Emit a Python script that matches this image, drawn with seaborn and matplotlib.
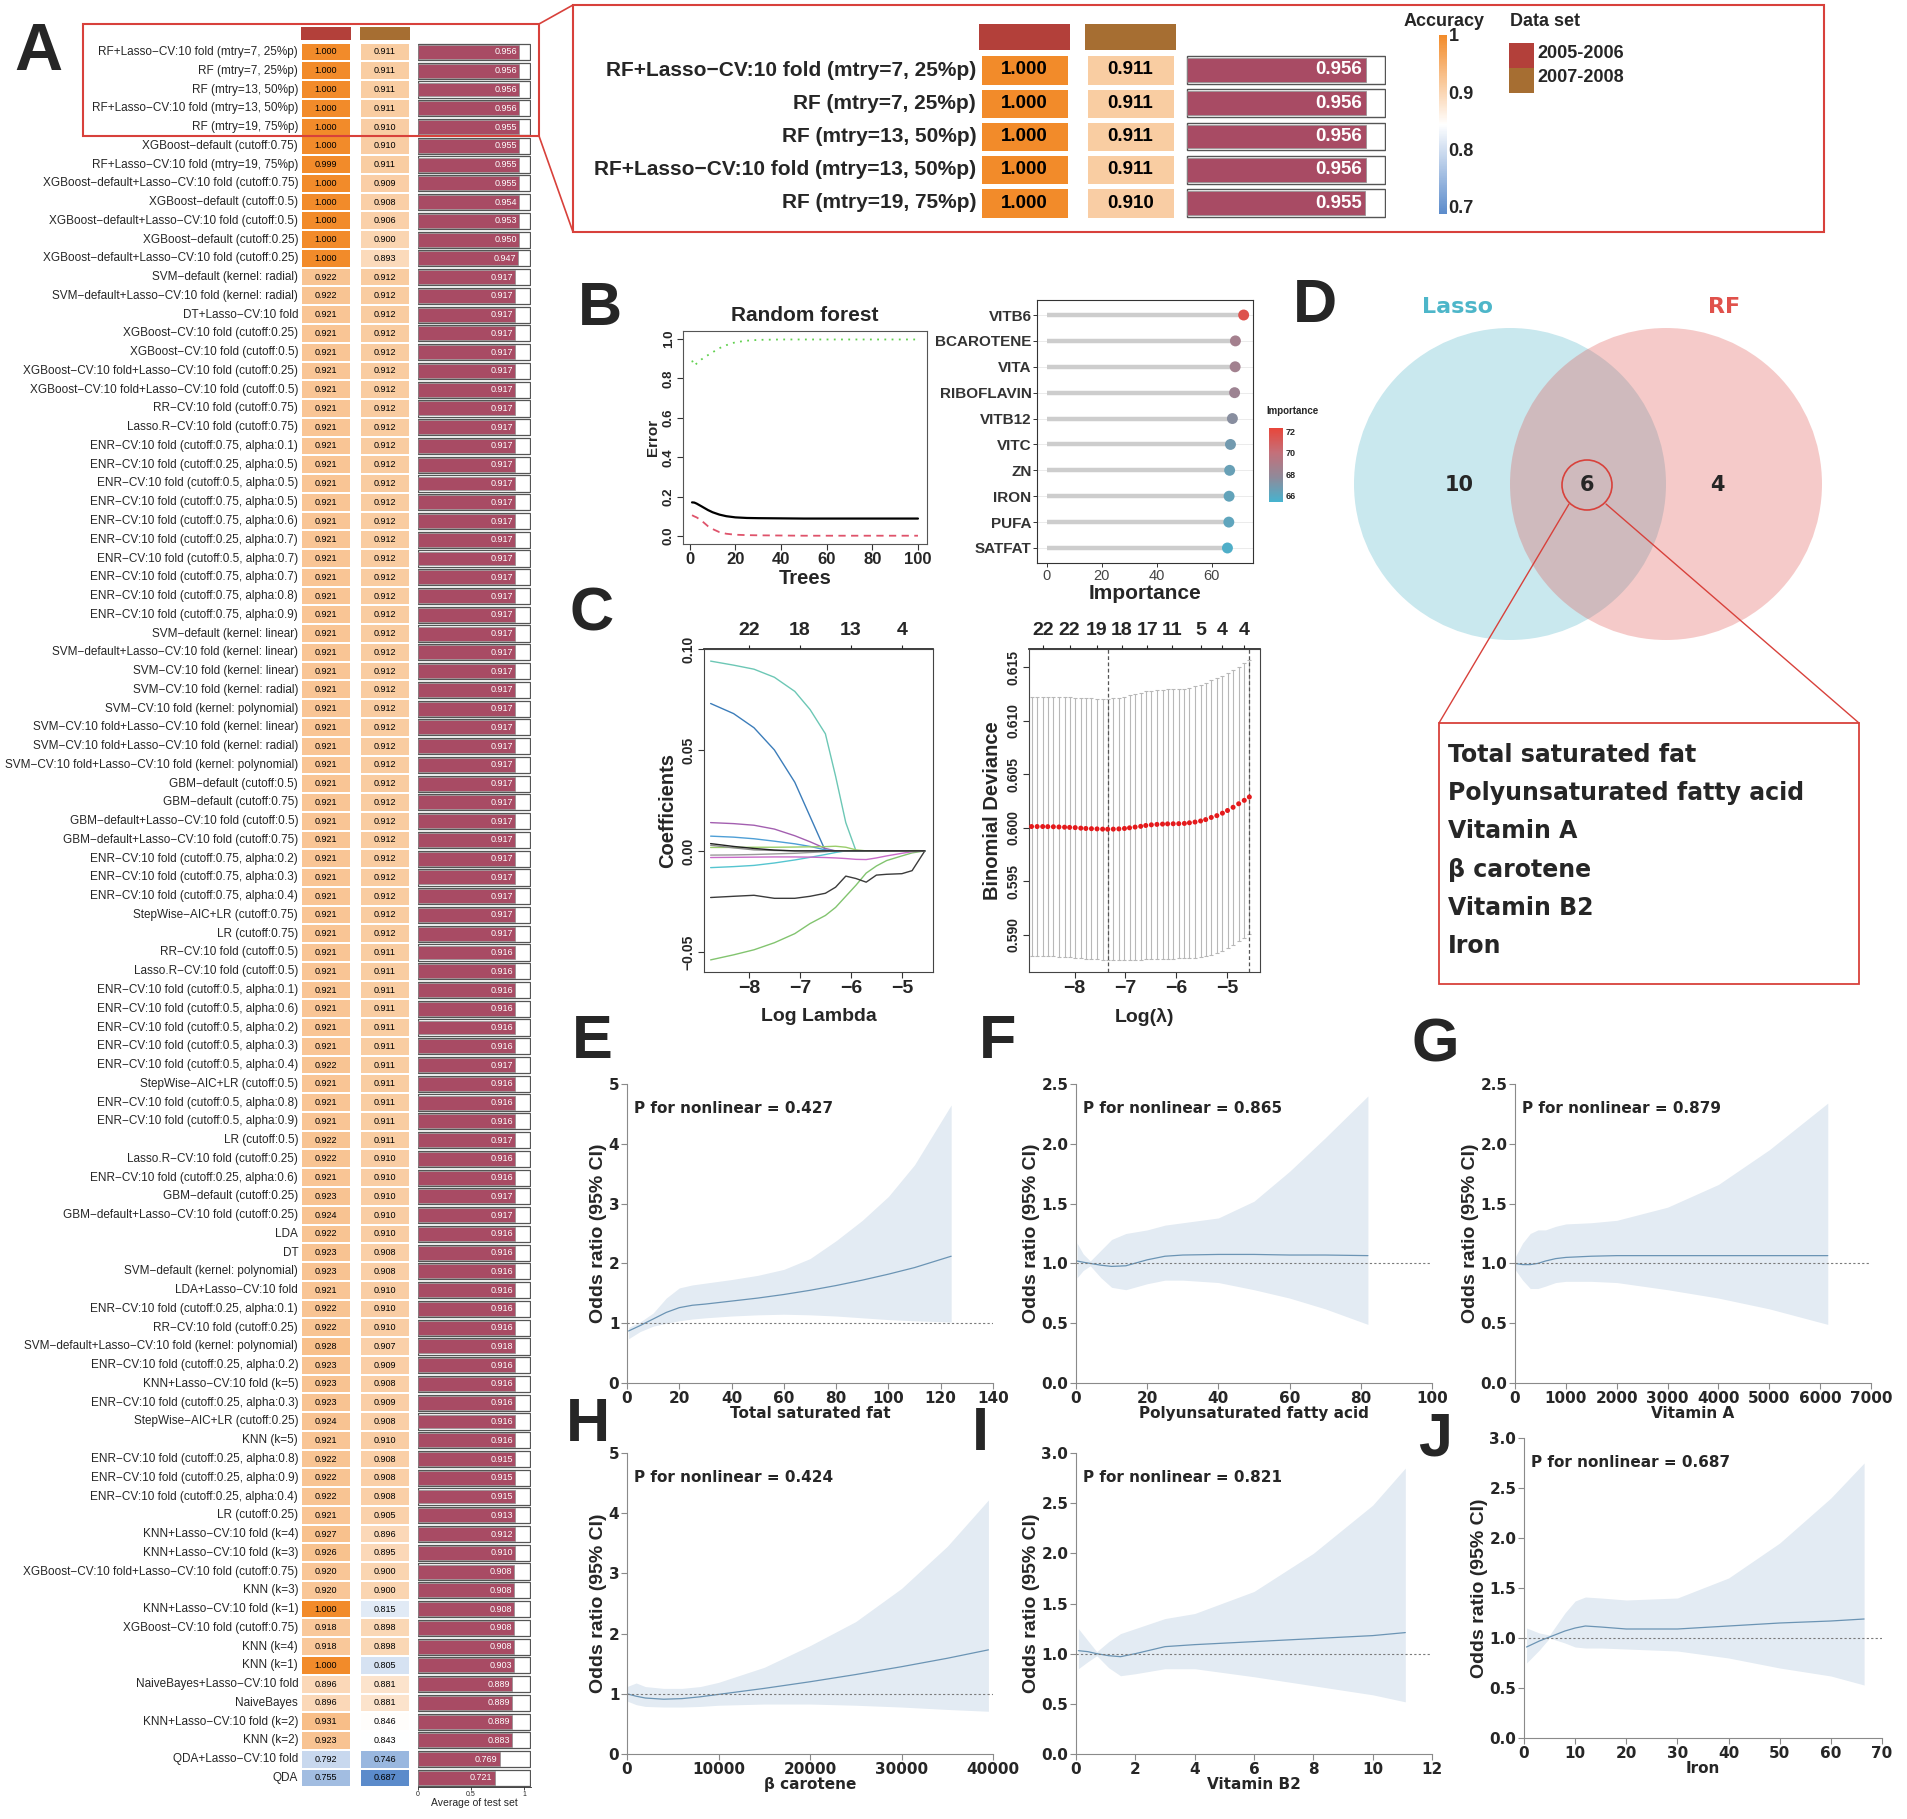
import numpy as np
import pandas as pd
import matplotlib
matplotlib.use("Agg")
import matplotlib.pyplot as plt
import seaborn as sns
from matplotlib.colors import LinearSegmentedColormap, Normalize
from matplotlib.patches import Rectangle, Circle
from matplotlib.cm import ScalarMappable

W, H = 1907, 1819

# ---------------- panel A: model accuracies ----------------
models = [
    "RF+Lasso-CV:10 fold (mtry=7, 25%p)", "RF (mtry=7, 25%p)", "RF (mtry=13, 50%p)",
    "RF+Lasso-CV:10 fold (mtry=13, 50%p)", "RF (mtry=19, 75%p)", "XGBoost-default (cutoff:0.75)",
    "RF+Lasso-CV:10 fold (mtry=19, 75%p)", "XGBoost-default+Lasso-CV:10 fold (cutoff:0.75)",
    "XGBoost-default (cutoff:0.5)", "XGBoost-default+Lasso-CV:10 fold (cutoff:0.5)",
    "XGBoost-default (cutoff:0.25)", "XGBoost-default+Lasso-CV:10 fold (cutoff:0.25)",
    "SVM-default (kernel: radial)", "SVM-default+Lasso-CV:10 fold (kernel: radial)",
    "DT+Lasso-CV:10 fold", "XGBoost-CV:10 fold (cutoff:0.25)", "XGBoost-CV:10 fold (cutoff:0.5)",
    "XGBoost-CV:10 fold+Lasso-CV:10 fold (cutoff:0.25)", "XGBoost-CV:10 fold+Lasso-CV:10 fold (cutoff:0.5)",
    "RR-CV:10 fold (cutoff:0.75)", "Lasso.R-CV:10 fold (cutoff:0.75)",
    "ENR-CV:10 fold (cutoff:0.75, alpha:0.1)", "ENR-CV:10 fold (cutoff:0.25, alpha:0.5)",
    "ENR-CV:10 fold (cutoff:0.5, alpha:0.5)", "ENR-CV:10 fold (cutoff:0.75, alpha:0.5)",
    "ENR-CV:10 fold (cutoff:0.75, alpha:0.6)", "ENR-CV:10 fold (cutoff:0.25, alpha:0.7)",
    "ENR-CV:10 fold (cutoff:0.5, alpha:0.7)", "ENR-CV:10 fold (cutoff:0.75, alpha:0.7)",
    "ENR-CV:10 fold (cutoff:0.75, alpha:0.8)", "ENR-CV:10 fold (cutoff:0.75, alpha:0.9)",
    "SVM-default (kernel: linear)", "SVM-default+Lasso-CV:10 fold (kernel: linear)",
    "SVM-CV:10 fold (kernel: linear)", "SVM-CV:10 fold (kernel: radial)",
    "SVM-CV:10 fold (kernel: polynomial)", "SVM-CV:10 fold+Lasso-CV:10 fold (kernel: linear)",
    "SVM-CV:10 fold+Lasso-CV:10 fold (kernel: radial)",
    "SVM-CV:10 fold+Lasso-CV:10 fold (kernel: polynomial)",
    "GBM-default (cutoff:0.5)", "GBM-default (cutoff:0.75)",
    "GBM-default+Lasso-CV:10 fold (cutoff:0.5)", "GBM-default+Lasso-CV:10 fold (cutoff:0.75)",
    "ENR-CV:10 fold (cutoff:0.75, alpha:0.2)", "ENR-CV:10 fold (cutoff:0.75, alpha:0.3)",
    "ENR-CV:10 fold (cutoff:0.75, alpha:0.4)", "StepWise-AIC+LR (cutoff:0.75)", "LR (cutoff:0.75)",
    "RR-CV:10 fold (cutoff:0.5)", "Lasso.R-CV:10 fold (cutoff:0.5)",
    "ENR-CV:10 fold (cutoff:0.5, alpha:0.1)", "ENR-CV:10 fold (cutoff:0.5, alpha:0.6)",
    "ENR-CV:10 fold (cutoff:0.5, alpha:0.2)", "ENR-CV:10 fold (cutoff:0.5, alpha:0.3)",
    "ENR-CV:10 fold (cutoff:0.5, alpha:0.4)", "StepWise-AIC+LR (cutoff:0.5)",
    "ENR-CV:10 fold (cutoff:0.5, alpha:0.8)", "ENR-CV:10 fold (cutoff:0.5, alpha:0.9)",
    "LR (cutoff:0.5)", "Lasso.R-CV:10 fold (cutoff:0.25)", "ENR-CV:10 fold (cutoff:0.25, alpha:0.6)",
    "GBM-default (cutoff:0.25)", "GBM-default+Lasso-CV:10 fold (cutoff:0.25)", "LDA", "DT",
    "SVM-default (kernel: polynomial)", "LDA+Lasso-CV:10 fold",
    "ENR-CV:10 fold (cutoff:0.25, alpha:0.1)", "RR-CV:10 fold (cutoff:0.25)",
    "SVM-default+Lasso-CV:10 fold (kernel: polynomial)", "ENR-CV:10 fold (cutoff:0.25, alpha:0.2)",
    "KNN+Lasso-CV:10 fold (k=5)", "ENR-CV:10 fold (cutoff:0.25, alpha:0.3)",
    "StepWise-AIC+LR (cutoff:0.25)", "KNN (k=5)", "ENR-CV:10 fold (cutoff:0.25, alpha:0.8)",
    "ENR-CV:10 fold (cutoff:0.25, alpha:0.9)", "ENR-CV:10 fold (cutoff:0.25, alpha:0.4)",
    "LR (cutoff:0.25)", "KNN+Lasso-CV:10 fold (k=4)", "KNN+Lasso-CV:10 fold (k=3)",
    "XGBoost-CV:10 fold+Lasso-CV:10 fold (cutoff:0.75)", "KNN (k=3)", "KNN+Lasso-CV:10 fold (k=1)",
    "XGBoost-CV:10 fold (cutoff:0.75)", "KNN (k=4)", "KNN (k=1)", "NaiveBayes+Lasso-CV:10 fold",
    "NaiveBayes", "KNN+Lasso-CV:10 fold (k=2)", "KNN (k=2)", "QDA+Lasso-CV:10 fold", "QDA",
]

acc_2005 = [
    1.000, 1.000, 1.000, 1.000, 1.000, 1.000, 0.999, 1.000, 1.000, 1.000,
    1.000, 1.000, 0.922, 0.922, 0.921, 0.921, 0.921, 0.921, 0.921, 0.921,
    0.921, 0.921, 0.921, 0.921, 0.921, 0.921, 0.921, 0.921, 0.921, 0.921,
    0.921, 0.921, 0.921, 0.921, 0.921, 0.921, 0.921, 0.921, 0.921, 0.921,
    0.921, 0.921, 0.921, 0.921, 0.921, 0.921, 0.921, 0.921, 0.921, 0.921,
    0.921, 0.921, 0.921, 0.921, 0.922, 0.921, 0.921, 0.921, 0.922, 0.922,
    0.921, 0.923, 0.924, 0.922, 0.923, 0.923, 0.921, 0.922, 0.922, 0.928,
    0.923, 0.923, 0.923, 0.924, 0.921, 0.922, 0.922, 0.922, 0.921, 0.927,
    0.926, 0.920, 0.920, 1.000, 0.918, 0.918, 1.000, 0.896, 0.896, 0.931,
    0.923, 0.792, 0.755,
]

acc_2007 = [
    0.911, 0.911, 0.911, 0.911, 0.910, 0.910, 0.911, 0.909, 0.908, 0.906,
    0.900, 0.893, 0.912, 0.912, 0.912, 0.912, 0.912, 0.912, 0.912, 0.912,
    0.912, 0.912, 0.912, 0.912, 0.912, 0.912, 0.912, 0.912, 0.912, 0.912,
    0.912, 0.912, 0.912, 0.912, 0.912, 0.912, 0.912, 0.912, 0.912, 0.912,
    0.912, 0.912, 0.912, 0.912, 0.912, 0.912, 0.912, 0.912, 0.911, 0.911,
    0.911, 0.911, 0.911, 0.911, 0.911, 0.911, 0.911, 0.911, 0.911, 0.910,
    0.910, 0.910, 0.910, 0.910, 0.908, 0.908, 0.910, 0.910, 0.910, 0.907,
    0.909, 0.908, 0.909, 0.908, 0.910, 0.908, 0.908, 0.908, 0.905, 0.896,
    0.895, 0.900, 0.900, 0.815, 0.898, 0.898, 0.805, 0.881, 0.881, 0.846,
    0.843, 0.746, 0.687,
]

acc_mean = [
    0.956, 0.956, 0.956, 0.956, 0.955, 0.955, 0.955, 0.955, 0.954, 0.953,
    0.950, 0.947, 0.917, 0.917, 0.917, 0.917, 0.917, 0.917, 0.917, 0.917,
    0.917, 0.917, 0.917, 0.917, 0.917, 0.917, 0.917, 0.917, 0.917, 0.917,
    0.917, 0.917, 0.917, 0.917, 0.917, 0.917, 0.917, 0.917, 0.917, 0.917,
    0.917, 0.917, 0.917, 0.917, 0.917, 0.917, 0.917, 0.917, 0.916, 0.916,
    0.916, 0.916, 0.916, 0.916, 0.917, 0.916, 0.916, 0.916, 0.917, 0.916,
    0.916, 0.917, 0.917, 0.916, 0.916, 0.916, 0.916, 0.916, 0.916, 0.918,
    0.916, 0.916, 0.916, 0.916, 0.916, 0.915, 0.915, 0.915, 0.913, 0.912,
    0.910, 0.908, 0.908, 0.908, 0.908, 0.908, 0.903, 0.889, 0.889, 0.889,
    0.883, 0.769, 0.721,
]

dataset_names = ["2005-2006", "2007-2008"]
top_n = 5

# ---------------- panel B: random forest ----------------
rf_trees = [1, 2, 3, 5, 8, 10, 13, 16, 20, 25, 30, 40, 50, 60, 70, 80, 90, 100]
rf_oob = [0.171, 0.170, 0.165, 0.152, 0.132, 0.121, 0.109, 0.101, 0.095, 0.092,
          0.091, 0.090, 0.089, 0.089, 0.089, 0.089, 0.089, 0.089]
rf_err_no = [0.106, 0.100, 0.095, 0.080, 0.050, 0.036, 0.020, 0.012, 0.007, 0.005,
             0.004, 0.003, 0.002, 0.002, 0.002, 0.002, 0.002, 0.002]
rf_err_yes = [0.890, 0.865, 0.875, 0.895, 0.918, 0.932, 0.953, 0.968, 0.983, 0.991,
              0.995, 0.997, 0.997, 0.997, 0.997, 0.997, 0.997, 0.997]

imp_vars = ["VITB6", "BCAROTENE", "VITA", "RIBOFLAVIN", "VITB12", "VITC", "ZN", "IRON", "PUFA", "SATFAT"]
imp_vals = [71.6, 68.6, 68.5, 68.3, 67.5, 66.8, 66.5, 66.3, 66.2, 65.7]

# ---------------- panel C: lasso ----------------
lasso_loglam = [-8.75, -8.3, -7.9, -7.5, -7.1, -6.8, -6.5, -6.3, -6.1, -5.9, -5.7, -5.5, -5.3, -5.0, -4.8, -4.55]
coef_vitb6 = [0.094, 0.092, 0.090, 0.086, 0.079, 0.070, 0.058, 0.037, 0.014, 0, 0, 0, 0, 0, 0, 0]
coef_vitb12 = [0.073, 0.068, 0.061, 0.050, 0.034, 0.017, 0.0, 0, 0, 0, 0, 0, 0, 0, 0, 0]
coef_zn = [0.014, 0.0135, 0.0127, 0.0108, 0.0075, 0.0045, 0.0012, 0, 0, 0, 0, 0, 0, 0, 0, 0]
coef_vitc = [0.0073, 0.0068, 0.0060, 0.0048, 0.0035, 0.0022, 0.0005, 0, 0, 0, 0, 0, 0, 0, 0, 0]
coef_satfat = [-0.054, -0.0515, -0.049, -0.0455, -0.041, -0.036, -0.032, -0.028, -0.0225, -0.017,
               -0.011, -0.0075, -0.0048, -0.0025, -0.001, 0]
coef_iron = [-0.0231, -0.0225, -0.022, -0.0235, -0.0235, -0.0225, -0.021, -0.018, -0.0125, -0.0137,
             -0.0155, -0.012, -0.0116, -0.0113, -0.0098, 0]
coef_pufa = [-0.0083, -0.0078, -0.0072, -0.006, -0.0045, -0.0032, -0.0018, -0.0008, 0, 0, 0, 0, 0, 0, 0, 0]
coef_vita = [-0.0033, -0.0032, -0.0031, -0.003, -0.003, -0.0031, -0.0033, -0.0035, -0.0038, -0.0042,
             -0.0043, -0.0035, -0.0025, -0.0012, -0.0004, 0]
coef_ribo = [0.0017, 0.0017, 0.0018, 0.0018, 0.0019, 0.002, 0.0021, 0.0023, 0.0018, 0.0005, 0, 0, 0, 0, 0, 0]
coef_other1 = [0.0028, 0.0015, 0.0005, 0.0002, 0, 0, 0, 0, 0, 0, 0, 0, 0, 0, 0, 0]
coef_other2 = [-0.0021, -0.002, -0.0018, -0.0015, -0.0012, -0.0008, -0.0004, 0, 0, 0, 0, 0, 0, 0, 0, 0]
coef_other3 = [0.0036, 0.0022, 0.0012, 0.0004, 0, 0, 0, 0, 0, 0, 0, 0, 0, 0, 0, 0]
lasso_top_df = ["22", "18", "13", "4"]

cv_loglam = [-8.85, -8.74, -8.63, -8.53, -8.42, -8.31, -8.20, -8.10, -7.99, -7.88,
             -7.78, -7.67, -7.56, -7.45, -7.35, -7.24, -7.13, -7.02, -6.92, -6.81,
             -6.70, -6.60, -6.49, -6.38, -6.27, -6.17, -6.06, -5.95, -5.84, -5.74,
             -5.63, -5.52, -5.42, -5.31, -5.20, -5.09, -4.99, -4.88, -4.77, -4.66, -4.56]
cv_dev = [0.60010, 0.60010, 0.60010, 0.60009, 0.60008, 0.60006, 0.60004, 0.60002, 0.60000, 0.59995,
          0.59992, 0.59990, 0.59988, 0.59986, 0.59985, 0.59986, 0.59988, 0.59992, 0.59998, 0.60005,
          0.60012, 0.60020, 0.60026, 0.60030, 0.60033, 0.60035, 0.60036, 0.60037, 0.60039, 0.60045,
          0.60052, 0.60062, 0.60075, 0.60095, 0.60112, 0.60135, 0.60160, 0.60190, 0.60223, 0.60255, 0.60286]
cv_se = [0.01212, 0.01212, 0.01212, 0.01213, 0.01213, 0.01214, 0.01214, 0.01215, 0.01216, 0.01217,
         0.01218, 0.01219, 0.01219, 0.01220, 0.01220, 0.01222, 0.01226, 0.01232, 0.01238, 0.01244,
         0.01249, 0.01253, 0.01255, 0.01257, 0.01258, 0.01259, 0.01260, 0.01260, 0.01261, 0.01263,
         0.01268, 0.01275, 0.01279, 0.01282, 0.01284, 0.01284, 0.01284, 0.01284, 0.01283, 0.01283, 0.01282]
cv_top_at = [-8.63, -8.10, -7.56, -7.07, -6.57, -6.08, -5.52, -5.09, -4.66]
cv_top_df = ["22", "22", "19", "18", "17", "11", "5", "4", "4"]
lam_min, lam_1se = -7.35, -4.56

# ---------------- panel D: venn ----------------
venn_sets = ["Lasso", "RF"]
venn_counts = [10, 6, 4]
shared_vars = ["Total saturated fat", "Polyunsaturated fatty acid", "Vitamin A",
               "\u03b2 carotene", "Vitamin B2", "Iron"]

# ---------------- panels E-J: restricted cubic splines ----------------
e_x = [0.6, 5, 10, 15, 20, 25, 30, 40, 50, 60, 70, 80, 90, 100, 110, 124]
e_or = [0.87, 0.96, 1.07, 1.18, 1.26, 1.30, 1.32, 1.37, 1.42, 1.48, 1.55, 1.63, 1.72, 1.82, 1.93, 2.12]
e_lo = [0.74, 0.86, 0.95, 1.00, 1.04, 1.07, 1.09, 1.12, 1.14, 1.15, 1.14, 1.12, 1.09, 1.06, 1.04, 1.02]
e_hi = [0.93, 1.02, 1.17, 1.42, 1.59, 1.64, 1.67, 1.73, 1.80, 1.90, 2.08, 2.38, 2.72, 3.12, 3.65, 4.65]

f_x = [0.3, 2, 4, 7, 10, 14, 20, 25, 30, 40, 50, 60, 70, 82]
f_or = [1.02, 1.01, 1.0, 0.985, 0.975, 0.98, 1.03, 1.06, 1.07, 1.075, 1.075, 1.07, 1.07, 1.065]
f_lo = [0.88, 0.94, 0.98, 0.88, 0.80, 0.78, 0.83, 0.86, 0.86, 0.84, 0.78, 0.71, 0.62, 0.49]
f_hi = [1.17, 1.08, 1.02, 1.11, 1.20, 1.25, 1.28, 1.32, 1.34, 1.38, 1.52, 1.77, 2.05, 2.40]

g_x = [0, 150, 300, 450, 600, 800, 1000, 1500, 2000, 3000, 4000, 5000, 6150]
g_or = [1.0, 0.99, 0.99, 1.0, 1.02, 1.04, 1.05, 1.06, 1.065, 1.065, 1.065, 1.065, 1.065]
g_lo = [0.95, 0.86, 0.79, 0.79, 0.81, 0.84, 0.85, 0.85, 0.84, 0.78, 0.71, 0.62, 0.49]
g_hi = [1.05, 1.17, 1.25, 1.28, 1.28, 1.31, 1.33, 1.34, 1.36, 1.47, 1.66, 1.95, 2.34]

h_x = [0, 1000, 2000, 4000, 6000, 8000, 10000, 15000, 20000, 25000, 30000, 35000, 39500]
h_or = [1.0, 0.96, 0.93, 0.91, 0.92, 0.95, 0.99, 1.09, 1.20, 1.32, 1.45, 1.59, 1.73]
h_lo = [0.88, 0.82, 0.79, 0.78, 0.78, 0.79, 0.81, 0.83, 0.83, 0.81, 0.78, 0.74, 0.71]
h_hi = [1.12, 1.18, 1.12, 1.09, 1.09, 1.12, 1.19, 1.44, 1.80, 2.20, 2.75, 3.45, 4.22]

i_x = [0.08, 0.4, 0.7, 1.1, 1.5, 2, 3, 4, 6, 8, 10, 11.1]
i_or = [1.03, 1.02, 1.0, 0.98, 0.97, 1.0, 1.07, 1.09, 1.12, 1.15, 1.18, 1.21]
i_lo = [0.85, 0.92, 0.98, 0.86, 0.78, 0.80, 0.85, 0.85, 0.77, 0.68, 0.59, 0.52]
i_hi = [1.25, 1.13, 1.02, 1.12, 1.20, 1.25, 1.35, 1.40, 1.62, 2.00, 2.48, 2.85]

j_x = [0.5, 3, 5, 8, 10, 12, 15, 20, 30, 40, 50, 60, 66.5]
j_or = [0.91, 0.97, 1.01, 1.07, 1.10, 1.12, 1.11, 1.09, 1.09, 1.12, 1.15, 1.17, 1.19]
j_lo = [0.75, 0.88, 1.0, 0.95, 0.91, 0.90, 0.90, 0.89, 0.87, 0.80, 0.70, 0.62, 0.53]
j_hi = [1.10, 1.05, 1.03, 1.25, 1.37, 1.41, 1.40, 1.38, 1.40, 1.60, 1.95, 2.40, 2.75]

p_nonlinear = ["0.427", "0.865", "0.879", "0.424", "0.821", "0.687"]

# ---------------- styling ----------------
sns.set_theme(style="ticks")
plt.rcParams["font.family"] = ["Liberation Sans", "DejaVu Sans"]
plt.rcParams["axes.unicode_minus"] = True

ACC_MIN, ACC_MAX = 0.687, 1.0
acc_cmap = LinearSegmentedColormap.from_list("acc", ["#5B8BCB", "#FFFFFF", "#F28B2A"])
imp_cmap = LinearSegmentedColormap.from_list("imp", ["#46B3CF", "#8F8A9A", "#C4707A", "#E8463A"])
IMP_MIN, IMP_MAX = 65.4, 72.3
set_colors = ["#B3403A", "#A66E32"]
bar_color = "#A84B64"
frame_red = "#D8413B"
BOX_W = 1.057
DJ = "DejaVu Sans"

fig = plt.figure(figsize=(W / 100, H / 100), dpi=100)


def box(x0, y0, x1, y1):
    return [x0 / W, 1 - y1 / H, (x1 - x0) / W, (y1 - y0) / H]


def minus(s):
    return s.replace("-", "\u2212")


def heat_column(ax, values, names, show_names, num_size, name_size, weight, gap):
    frame = pd.DataFrame({"acc": values}, index=names)
    sns.heatmap(frame, ax=ax, cmap=acc_cmap, vmin=ACC_MIN, vmax=ACC_MAX, cbar=False,
                annot=True, fmt=".3f",
                annot_kws={"size": num_size, "color": "black", "weight": weight},
                linewidths=gap, linecolor="white", xticklabels=False, yticklabels=show_names)
    ax.set_ylabel("")
    ax.tick_params(axis="y", length=0, pad=2)
    if show_names:
        ax.set_yticklabels([minus(n) for n in names], rotation=0,
                           fontsize=name_size, fontweight=weight)


def avg_bars(ax, values, names, txt_size, weight, box_h, bar_h, box_lw):
    n = len(values)
    sns.barplot(x=values, y=names, orient="h", color=bar_color, saturation=1, width=bar_h,
                edgecolor="#8f8f8f", linewidth=0.5, ax=ax, zorder=2)
    ax.barh(names, BOX_W, height=box_h, facecolor="white", edgecolor="#555555",
            linewidth=box_lw, zorder=1)
    for i, v in enumerate(values):
        ax.text(v - 0.018, i, f"{v:.3f}", ha="right", va="center", color="white",
                fontsize=txt_size, fontweight=weight, zorder=3)
    ax.set_xlim(-0.005, 1.065)
    ax.set_ylim(n - 0.5, -0.5)
    ax.set_yticks([])
    ax.set_ylabel("")


# ---- A: full list ----
row0, pitch = 52, 18.76
top_a = row0 - pitch / 2
bot_a = row0 + pitch * (len(models) - 1) + pitch / 2

ax = fig.add_axes(box(301, top_a, 351, bot_a))
heat_column(ax, acc_2005, models, True, 6.5, 8.5, "normal", 1.2)
ax = fig.add_axes(box(360, top_a, 410, bot_a))
heat_column(ax, acc_2007, models, False, 6.5, 8.5, "normal", 1.2)
ax = fig.add_axes(box(417.5, top_a, 531, bot_a))
avg_bars(ax, acc_mean, models, 6.5, "normal", 0.86, 0.74, 0.9)
sns.despine(ax=ax, left=True)
ax.set_xticks([0, 0.5, 1])
ax.set_xticklabels(["0", "0.5", "1"], fontsize=5)
ax.tick_params(axis="x", length=2, width=0.6, pad=1)
ax.spines["bottom"].set_linewidth(0.6)
ax.set_xlabel("Average of test set", fontsize=7.5, labelpad=0)

# ---- A: zoomed top rows ----
in0, in_pitch = 70, 33.25
in_top = in0 - in_pitch / 2
in_bot = in0 + in_pitch * (top_n - 1) + in_pitch / 2
ax = fig.add_axes(box(979, in_top, 1070, in_bot))
heat_column(ax, acc_2005[:top_n], models[:top_n], True, 13.5, 15, "bold", 2.5)
ax = fig.add_axes(box(1085, in_top, 1176, in_bot))
heat_column(ax, acc_2007[:top_n], models[:top_n], False, 13.5, 15, "bold", 2.5)
ax = fig.add_axes(box(1186, in_top, 1386, in_bot))
avg_bars(ax, acc_mean[:top_n], models[:top_n], 13.5, "bold", 0.84, 0.72, 1.0)
ax.axis("off")

cax = fig.add_axes(box(1439, 35, 1447, 214))
cb = fig.colorbar(ScalarMappable(Normalize(ACC_MIN, ACC_MAX), acc_cmap), cax=cax)
cb.outline.set_visible(False)
cb.set_ticks([0.7, 0.8, 0.9, 1.0])
cb.set_ticklabels(["0.7", "0.8", "0.9", "1"])
cax.tick_params(length=0, labelsize=13, pad=1)
for t in cax.get_yticklabels():
    t.set_fontweight("bold")

# ---- B: random forest error ----
ax = fig.add_axes(box(683, 331, 927, 544))
sns.lineplot(x=rf_trees, y=rf_oob, color="black", lw=1.6, ax=ax)
sns.lineplot(x=rf_trees, y=rf_err_no, color="#DF536B", lw=1.3, linestyle=(0, (4, 3)), ax=ax)
sns.lineplot(x=rf_trees, y=rf_err_yes, color="#61D04F", lw=1.3, linestyle=(0, (1, 3)), ax=ax)
ax.set_xlim(-2.96, 103.96)
ax.set_ylim(-0.04, 1.04)
ax.set_xticks([0, 20, 40, 60, 80, 100])
ax.set_xticklabels(["0", "20", "40", "60", "80", "100"], fontsize=12, fontweight="bold")
ax.set_yticks([0, 0.2, 0.4, 0.6, 0.8, 1.0])
ax.set_yticklabels(["0.0", "0.2", "0.4", "0.6", "0.8", "1.0"], fontsize=9.5,
                   fontweight="bold", rotation=90, va="center")
ax.tick_params(length=4, width=0.8, pad=2, color="#333333")
for s in ax.spines.values():
    s.set_linewidth(0.8)
    s.set_color("#555555")
ax.set_title("Random forest", fontsize=15, fontweight="bold", pad=7)
ax.set_ylabel("Error", fontsize=11, fontweight="bold", labelpad=2)
ax.set_xlabel("Trees", fontsize=14.5, fontweight="bold", labelpad=1)

# ---- B: importance lollipop ----
ax = fig.add_axes(box(1037, 300, 1253, 563))
ax.hlines(imp_vars, 0, imp_vals, color="#CDCDCD", lw=3.2, zorder=1)
sns.scatterplot(x=imp_vals, y=imp_vars, hue=imp_vals, palette=imp_cmap,
                hue_norm=(IMP_MIN, IMP_MAX), s=62, legend=False, edgecolor="none",
                ax=ax, zorder=3)
ax.set_ylim(9.58, -0.58)
ax.set_xlim(-3.6, 75)
ax.grid(axis="y", color="#EBEBEB", lw=0.7)
ax.set_axisbelow(True)
ax.set_xticks([0, 20, 40, 60])
ax.set_xticklabels(["0", "20", "40", "60"], fontsize=10.5, color="#444444")
ax.set_yticks(range(len(imp_vars)))
ax.set_yticklabels(imp_vars, fontsize=11, fontweight="bold", color="#333333")
ax.tick_params(length=3, width=0.7, pad=1, color="#333333")
for s in ax.spines.values():
    s.set_linewidth(0.8)
    s.set_color("#333333")
ax.set_xlabel("Importance", fontsize=15, fontweight="bold", labelpad=1)
ax.set_ylabel("")

cax = fig.add_axes(box(1269, 428, 1283, 502))
cb = fig.colorbar(ScalarMappable(Normalize(IMP_MIN, IMP_MAX), imp_cmap), cax=cax)
cb.outline.set_visible(False)
cb.set_ticks([66, 68, 70, 72])
cax.tick_params(length=2, color="white", direction="in", labelsize=6.5, pad=2)
for t in cax.get_yticklabels():
    t.set_fontweight("bold")

# ---- C: lasso coefficient paths ----
lasso_paths = [coef_vitb6, coef_vitb12, coef_zn, coef_vitc, coef_satfat, coef_iron, coef_pufa,
               coef_vita, coef_ribo, coef_other1, coef_other2, coef_other3]
path_colors = ["#6CC7B5", "#3C7DBA", "#A35FB0", "#4E9FD6", "#82C46F", "#3B3B3B", "#55C5D0",
               "#C86BC9", "#9ACD6A", "#8A8A8A", "#9A9A9A", "#222222"]
ax = fig.add_axes(box(704, 649, 933, 972))
for path, col in zip(lasso_paths, path_colors):
    sns.lineplot(x=lasso_loglam, y=path, color=col, lw=1.0, ax=ax)
ax.set_xlim(-8.88, -4.39)
ax.set_ylim(-0.06, 0.10)
ax.set_xticks([-8, -7, -6, -5])
ax.set_xticklabels([minus(s) for s in ["-8", "-7", "-6", "-5"]], fontsize=14, fontweight="bold")
ax.set_yticks([-0.05, 0, 0.05, 0.10])
ax.set_yticklabels([minus("-0.05"), "0.00", "0.05", "0.10"], fontsize=10, fontweight="bold",
                   rotation=90, va="center")
ax.tick_params(length=4, width=0.8, pad=2, color="#333333")
for s in ax.spines.values():
    s.set_linewidth(0.8)
    s.set_color("#444444")
ax.set_xlabel("Log Lambda", fontsize=14, fontweight="bold", labelpad=8)
ax.set_ylabel("Coefficients", fontsize=14.5, fontweight="bold", labelpad=3)
top = ax.secondary_xaxis("top")
top.set_xticks([-8, -7, -6, -5], labels=lasso_top_df)
top.tick_params(length=3, width=0.8, pad=4, labelsize=14)
for t in top.get_xticklabels():
    t.set_fontweight("bold")

# ---- C: cross-validation ----
ax = fig.add_axes(box(1029, 649, 1260, 972))
ax.errorbar(cv_loglam, cv_dev, yerr=cv_se, fmt="none", ecolor="#B8B8B8", elinewidth=0.8,
            capsize=1.3, capthick=0.8)
sns.scatterplot(x=cv_loglam, y=cv_dev, color="#E41A1C", s=13, edgecolor="none", ax=ax, zorder=3)
ax.axvline(lam_min, color="#555555", lw=0.9, linestyle=(0, (3, 2)))
ax.axvline(lam_1se, color="#555555", lw=0.9, linestyle=(0, (3, 2)))
ax.set_xlim(-8.9, -4.35)
ax.set_ylim(0.5865, 0.6167)
ax.set_xticks([-8, -7, -6, -5])
ax.set_xticklabels([minus(s) for s in ["-8", "-7", "-6", "-5"]], fontsize=14, fontweight="bold")
ax.set_yticks([0.590, 0.595, 0.600, 0.605, 0.610, 0.615])
ax.set_yticklabels(["0.590", "0.595", "0.600", "0.605", "0.610", "0.615"], fontsize=10,
                   fontweight="bold", rotation=90, va="center")
ax.tick_params(length=4, width=0.8, pad=2, color="#333333")
for s in ax.spines.values():
    s.set_linewidth(0.8)
    s.set_color("#444444")
ax.set_xlabel("Log(\u03bb)", fontsize=14, fontweight="bold", labelpad=8)
ax.set_ylabel("Binomial Deviance", fontsize=14.5, fontweight="bold", labelpad=3)
top = ax.secondary_xaxis("top")
top.set_xticks(cv_top_at, labels=cv_top_df)
top.tick_params(length=3, width=0.8, pad=4, labelsize=14)
for t in top.get_xticklabels():
    t.set_fontweight("bold")


# ---- E-J: RCS curves ----
def rcs_panel(rect, xs, ors, los, his, xticks, yticks, ylabels, xlabel, ptext):
    ax = fig.add_axes(box(*rect))
    ax.fill_between(xs, los, his, color="#E3EBF3", lw=0)
    sns.lineplot(x=xs, y=ors, color="#6B94B4", lw=0.9, ax=ax)
    ax.axhline(1, color="#7a7a7a", lw=0.8, linestyle=(0, (2, 2)))
    ax.set_xlim(xticks[0], xticks[-1])
    ax.set_ylim(yticks[0], yticks[-1])
    ax.set_xticks(xticks)
    ax.set_xticklabels([str(v) for v in xticks], fontfamily=DJ, fontweight="bold", fontsize=11)
    ax.set_yticks(yticks)
    ax.set_yticklabels(ylabels, fontfamily=DJ, fontweight="bold", fontsize=11)
    sns.despine(ax=ax)
    for s in ("left", "bottom"):
        ax.spines[s].set_color("#8a8a8a")
        ax.spines[s].set_linewidth(0.8)
    ax.tick_params(length=4, width=0.8, color="#8a8a8a", pad=1.5)
    ax.set_xlabel(xlabel, fontfamily=DJ, fontweight="bold", fontsize=11, labelpad=0)
    ax.set_ylabel("Odds ratio (95% CI)", fontsize=14, fontweight="bold", labelpad=1)
    ax.text(0.02, 0.917, f"P for nonlinear = {ptext}", transform=ax.transAxes, va="center",
            fontfamily=DJ, fontweight="bold", fontsize=11)
    return ax


lab5 = ["0", "1", "2", "3", "4", "5"]
lab25 = ["0.0", "0.5", "1.0", "1.5", "2.0", "2.5"]
lab30 = ["0.0", "0.5", "1.0", "1.5", "2.0", "2.5", "3.0"]
rcs_panel((627, 1084, 993, 1383), e_x, e_or, e_lo, e_hi, [0, 20, 40, 60, 80, 100, 120, 140],
          [0, 1, 2, 3, 4, 5], lab5, "Total saturated fat", p_nonlinear[0])
rcs_panel((1076, 1084, 1432, 1383), f_x, f_or, f_lo, f_hi, [0, 20, 40, 60, 80, 100],
          [0, 0.5, 1.0, 1.5, 2.0, 2.5], lab25, "Polyunsaturated fatty acid", p_nonlinear[1])
rcs_panel((1515, 1084, 1871, 1383), g_x, g_or, g_lo, g_hi,
          [0, 1000, 2000, 3000, 4000, 5000, 6000, 7000],
          [0, 0.5, 1.0, 1.5, 2.0, 2.5], lab25, "Vitamin A", p_nonlinear[2])
rcs_panel((627, 1453, 993, 1754), h_x, h_or, h_lo, h_hi, [0, 10000, 20000, 30000, 40000],
          [0, 1, 2, 3, 4, 5], lab5, "\u03b2 carotene", p_nonlinear[3])
rcs_panel((1076, 1453, 1432, 1754), i_x, i_or, i_lo, i_hi, [0, 2, 4, 6, 8, 10, 12],
          [0, 0.5, 1.0, 1.5, 2.0, 2.5, 3.0], lab30, "Vitamin B2", p_nonlinear[4])
rcs_panel((1524, 1438, 1882, 1738), j_x, j_or, j_lo, j_hi, [0, 10, 20, 30, 40, 50, 60, 70],
          [0, 0.5, 1.0, 1.5, 2.0, 2.5, 3.0], lab30, "Iron", p_nonlinear[5])

# ---------------- overlay in pixel coordinates ----------------
ov = fig.add_axes([0, 0, 1, 1])
ov.set_xlim(0, W)
ov.set_ylim(H, 0)
ov.axis("off")
ov.patch.set_alpha(0)

# dataset header blocks
for (x0, x1), c in zip([(301, 351), (360, 410)], set_colors):
    ov.add_patch(Rectangle((x0, 27), x1 - x0, 13, facecolor=c, lw=0))
for (x0, x1), c in zip([(979, 1070), (1085, 1176)], set_colors):
    ov.add_patch(Rectangle((x0, 24), x1 - x0, 26, facecolor=c, lw=0))

# zoom frames
ov.add_patch(Rectangle((83, 24), 456, 112, fill=False, edgecolor=frame_red, lw=1.5))
ov.add_patch(Rectangle((573, 5), 1251, 227, fill=False, edgecolor=frame_red, lw=1.5))
ov.plot([539, 573], [24, 5], color=frame_red, lw=1.2)
ov.plot([539, 573], [136, 232], color=frame_red, lw=1.2)

# legends inside the zoom frame
ov.text(1444, 22, "Accuracy", ha="center", va="center", fontsize=13, fontweight="bold")
ov.text(1510, 22, "Data set", ha="left", va="center", fontsize=13, fontweight="bold")
for k, (name, c) in enumerate(zip(dataset_names, set_colors)):
    ov.add_patch(Rectangle((1509, 43 + 25 * k), 25, 25, facecolor=c, lw=0))
    ov.text(1537, 53 + 25 * k, name, ha="left", va="center", fontsize=13, fontweight="bold")

# importance legend title
ov.text(1266, 411, "Importance", ha="left", va="center", fontsize=7, fontweight="bold")

# D: venn
ov.add_patch(Circle((1510, 484), 156, facecolor=(0.30, 0.70, 0.78), alpha=0.3, lw=0))
ov.add_patch(Circle((1666, 484), 156, facecolor=(0.88, 0.32, 0.30), alpha=0.3, lw=0))
ov.text(1458, 307, venn_sets[0], ha="center", va="center", fontsize=16, fontweight="bold",
        color="#4DB6C9", family=DJ)
ov.text(1724, 307, venn_sets[1], ha="center", va="center", fontsize=16, fontweight="bold",
        color="#E0514B", family=DJ)
for xc, cnt in zip([1459, 1587, 1717], venn_counts):
    ov.text(xc, 485, str(cnt), ha="center", va="center", fontsize=15, fontweight="bold", family=DJ)
ov.add_patch(Circle((1587, 485), 25, fill=False, edgecolor=frame_red, lw=1.2))
ov.plot([1569, 1439], [504, 723], color=frame_red, lw=1.0)
ov.plot([1606, 1859], [504, 723], color=frame_red, lw=1.0)
ov.add_patch(Rectangle((1439, 723), 420, 261, fill=False, edgecolor=frame_red, lw=1.3))
for k, name in enumerate(shared_vars):
    ov.text(1448, 755 + 38.2 * k, name, ha="left", va="center", fontsize=17, fontweight="bold",
            family=DJ)

# panel letters
letters = {"A": (14, 70, 48), "B": (578, 325, 44), "C": (569, 630, 44), "D": (1293, 322, 44),
           "E": (572, 1058, 44), "F": (979, 1058, 44), "G": (1411, 1061, 44),
           "H": (566, 1441, 44), "I": (972, 1450, 44), "J": (1418, 1455, 44)}
for let, (lx, ly, fs) in letters.items():
    ov.text(lx, ly, let, ha="left", va="baseline", fontsize=fs, fontweight="bold")

fig.savefig("out.png", dpi=100)
